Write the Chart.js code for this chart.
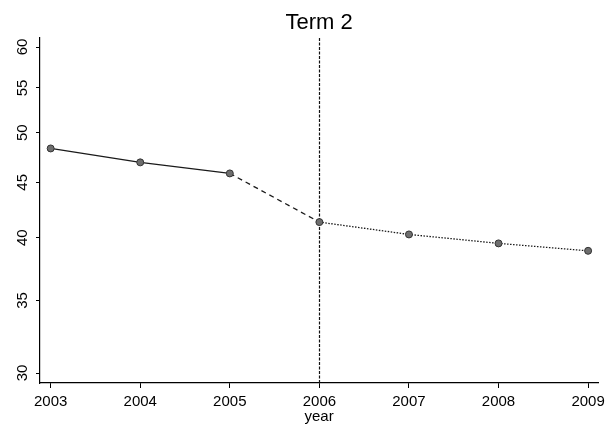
<!DOCTYPE html>
<html>
<head>
<meta charset="utf-8">
<script src="https://cdn.jsdelivr.net/npm/chart.js@4/dist/chart.umd.min.js"></script>
<style>
  html, body { margin: 0; padding: 0; background: #fff; }
  #wrap { width: 610px; height: 424px; }
</style>
</head>
<body>
<div id="wrap"><canvas id="c" width="610" height="424"></canvas></div>
<script>
// Term 2 series, by year
const years = [2003, 2004, 2005, 2006, 2007, 2008, 2009];
const values = [48.36, 46.95, 45.86, 41.35, 40.28, 39.52, 38.9];
const yTickValues = [30, 35, 40, 45, 50, 55, 60];
const xTickValues = [2003, 2004, 2005, 2006, 2007, 2008, 2009];
const breakYear = 2006;

const FONT = '"Liberation Sans", Arial, Helvetica, sans-serif';
const points = years.map((y, i) => ({ x: y, y: values[i] }));

// Dashed vertical reference line at the break year
const breakLine = {
  id: 'breakLine',
  beforeDatasetsDraw(chart) {
    const { ctx, chartArea, scales } = chart;
    const x = Math.round(scales.x.getPixelForValue(breakYear)) + 0.5;
    ctx.save();
    ctx.strokeStyle = '#111';
    ctx.lineWidth = 1.2;
    ctx.setLineDash([3, 1.5]);
    ctx.beginPath();
    ctx.moveTo(x, chartArea.top);
    ctx.lineTo(x, chartArea.bottom);
    ctx.stroke();
    ctx.restore();
  }
};

// Vertical (rotated) y tick labels
const rotatedYLabels = {
  id: 'rotatedYLabels',
  afterDraw(chart) {
    const { ctx, scales } = chart;
    const ys = scales.y;
    ctx.save();
    ctx.fillStyle = '#000';
    ctx.font = '15px ' + FONT;
    ctx.textAlign = 'center';
    ctx.textBaseline = 'middle';
    yTickValues.forEach(v => {
      const py = ys.getPixelForValue(v);
      ctx.save();
      ctx.translate(23, py);
      ctx.rotate(-Math.PI / 2);
      ctx.fillText(String(v), 0, 0);
      ctx.restore();
    });
    ctx.restore();
  }
};

new Chart(document.getElementById('c'), {
  type: 'line',
  data: {
    datasets: [{
      data: points,
      borderColor: '#1a1a1a',
      borderWidth: 1.3,
      pointRadius: 3.5,
      pointBackgroundColor: '#6e6e6e',
      pointBorderColor: '#333',
      pointBorderWidth: 1,
      tension: 0,
      segment: {
        borderDash: ctx => ctx.p0DataIndex < 2 ? [] : (ctx.p0DataIndex === 2 ? [5, 4] : [1.5, 1.5])
      }
    }]
  },
  options: {
    responsive: false,
    animation: false,
    devicePixelRatio: 1,
    layout: { padding: { left: 0, right: 11, top: 0, bottom: 0 } },
    plugins: {
      legend: { display: false },
      tooltip: { enabled: false },
      title: {
        display: true,
        text: 'Term 2',
        color: '#000',
        fullSize: false,
        font: { family: FONT, size: 22, weight: 'normal' },
        padding: { top: 10, bottom: 1.6 }
      }
    },
    scales: {
      x: {
        type: 'linear',
        min: 2002.881,
        max: 2009.113,
        afterBuildTicks: s => { s.ticks = xTickValues.map(v => ({ value: v })); },
        afterFit: s => { s.height = 41; },
        grid: { display: true, drawOnChartArea: false, drawTicks: true, tickLength: 5, color: '#000', lineWidth: 1 },
        border: { display: true, color: '#000', width: 1.2 },
        ticks: {
          color: '#000',
          font: { family: FONT, size: 15 },
          padding: 5,
          maxRotation: 0,
          autoSkip: false,
          callback: v => String(v)
        },
        title: {
          display: true,
          text: 'year',
          color: '#000',
          font: { family: FONT, size: 15 },
          padding: { top: 0, bottom: -2 }
        }
      },
      y: {
        type: 'logarithmic',
        min: 29.37,
        max: 61.16,
        afterBuildTicks: s => { s.ticks = yTickValues.map(v => ({ value: v })); },
        afterFit: s => { s.width = 40; },
        grid: { display: true, drawOnChartArea: false, drawTicks: true, tickLength: 4, color: '#000', lineWidth: 1 },
        border: { display: true, color: '#000', width: 1.2 },
        ticks: { display: false }
      }
    }
  },
  plugins: [breakLine, rotatedYLabels]
});
</script>
</body>
</html>
